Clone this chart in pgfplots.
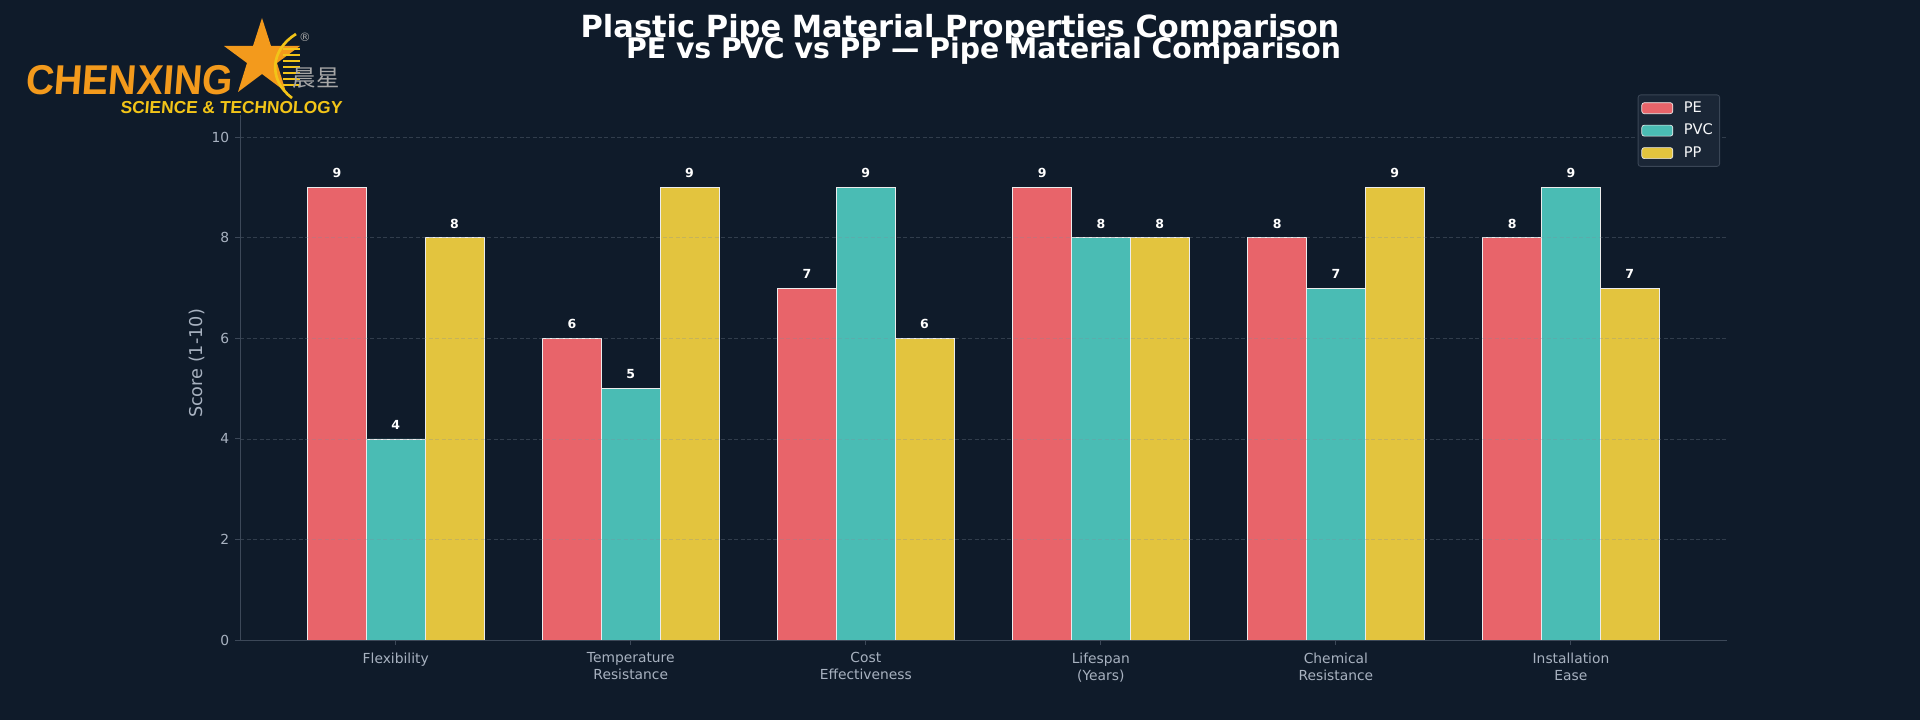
\documentclass[border=0pt]{standalone}
\usepackage{pgfplots}
\pgfplotsset{compat=1.18}
\usepackage{fontspec}
\setmainfont{DejaVu Sans}
\newfontfamily\logofont[FakeSlant=0.08]{Liberation Sans}
\newfontfamily\cjk{Noto Sans CJK SC}
\definecolor{bg}{HTML}{0F1B2A}
\definecolor{pe}{HTML}{E8646A}
\definecolor{pvc}{HTML}{4ABCB4}
\definecolor{pp}{HTML}{E3C43E}
\definecolor{tickc}{HTML}{A8B2C0}
\definecolor{spine}{HTML}{3C4858}
\definecolor{legbg}{HTML}{1A2636}
\definecolor{legedge}{HTML}{3A4656}
\definecolor{logoorange}{HTML}{F39A1C}
\definecolor{logoyellow}{HTML}{F2C418}
\definecolor{gridc}{HTML}{808C9B}

\pgfplotstableread{
x PE PVC PP
0 9 4 8
1 6 5 9
2 7 9 6
3 9 8 8
4 8 7 9
5 8 9 7
}\scores

\begin{document}
\begin{tikzpicture}
\fill[bg] (0,0) rectangle (1152pt,432pt);
\path[use as bounding box] (0,0) rectangle (1152pt,432pt);
\begin{axis}[
  at={(144pt,48pt)}, anchor=south west,
  scale only axis, width=892pt, height=331.8pt,
  xmin=-0.6625, xmax=5.6625, ymin=0, ymax=11,
  axis x line*=bottom, axis y line*=left,
  axis line style={spine, line width=0.6pt},
  axis on top,
  ytick={0,2,4,6,8,10},
  xtick={0,1,2,3,4,5},
  xticklabels={Flexibility,{Temperature\\Resistance},{Cost\\Effectiveness},{Lifespan\\(Years)},{Chemical\\Resistance},{Installation\\Ease}},
  x tick label style={align=center, font=\fontsize{8.3}{10.2}\selectfont, text=tickc, yshift=-1pt},
  y tick label style={font=\fontsize{8.3}{10}\selectfont, text=tickc},
  /pgf/number format/assume math mode=true,
  tick align=outside, major tick length=3pt,
  tick style={spine, line width=0.6pt},
  ymajorgrids,
  grid style={gridc, opacity=0.3, dash pattern=on 2.4pt off 1.5pt, line width=0.4pt},
  ylabel={Score (1-10)},
  ylabel style={at={(axis description cs:-0.0291,0.5)}, anchor=center, font=\fontsize{10.6}{12}\selectfont, text=tickc},
  ybar, bar width=0.25,
  nodes near coords,
  every node near coord/.append style={font=\fontsize{7.5}{9}\selectfont\bfseries, text=white, inner sep=0pt, yshift=5.5pt},
  legend style={at={(1,1)}, anchor=north east, xshift=-4pt, yshift=-4.5pt,
    fill=legbg, draw=legedge, line width=0.5pt, rounded corners=1.5pt,
    font=\fontsize{8.8}{10}\selectfont, text=white!90!tickc,
    row sep=1.5pt, inner xsep=2pt, inner ysep=2pt},
  legend cell align=left,
  legend image code/.code={\draw[#1, draw=white!85!gray, line width=0.4pt] (0pt,-3.3pt) rectangle (18.6pt,3.3pt); \path (23pt,0pt);},
]
\addplot[fill=pe, draw=white!85!gray, line width=0.4pt, bar shift=-0.25] table[x=x,y=PE] {\scores};
\addplot[fill=pvc, draw=white!85!gray, line width=0.4pt, bar shift=0] table[x=x,y=PVC] {\scores};
\addplot[fill=pp, draw=white!85!gray, line width=0.4pt, bar shift=0.25] table[x=x,y=PP] {\scores};
\legend{PE,PVC,PP}
\end{axis}
\begin{scope}[x=0.6pt, y=-0.6pt, shift={(0pt,432pt)}]
  % titles
  \node[anchor=base, text=white, font=\fontsize{18.3}{20}\selectfont\bfseries, inner sep=0] at (960,38) {Plastic Pipe Material Properties Comparison};
  \node[anchor=base, text=white, font=\fontsize{17}{19}\selectfont\bfseries, inner sep=0] at (983.5,59) {PE vs PVC vs PP — Pipe Material Comparison};
  % logo
  \fill[bg] (0,0) rectangle (345,115);
  \fill[logoorange] (262,18) -- (271,46) -- (300,46) -- (277,63) -- (286,92) -- (262,74) -- (238,92) -- (247,63) -- (224,46) -- (253,46) -- cycle;
  \draw[logoyellow, line width=1.6pt] (296,34) .. controls (270,50) and (268,80) .. (292,98);
  \foreach \yy in {49,55,61,67,73,79,85} {\draw[logoyellow, line width=1.5pt] (283,\yy) -- (300,\yy);}
  \node[anchor=base west, inner sep=0, text=logoorange, font=\logofont\fontsize{25}{25}\selectfont\bfseries, xscale=0.94] at (25,95) {CHENXING};
  \node[anchor=base west, inner sep=0, text=logoyellow, font=\logofont\fontsize{10.4}{11}\selectfont\bfseries] at (120,113) {SCIENCE \& TECHNOLOGY};
  \node[anchor=center, inner sep=0, text=gray!70, font=\cjk\fontsize{14}{14}\selectfont] at (316,78) {晨星};
  \node[anchor=center, inner sep=0, text=gray!70, font=\fontsize{7}{7}\selectfont] at (305,37) {®};
\end{scope}
\end{tikzpicture}
\end{document}
